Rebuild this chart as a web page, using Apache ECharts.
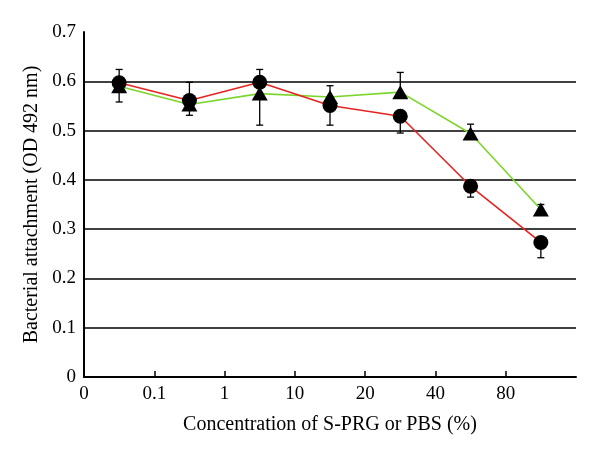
<!DOCTYPE html>
<html><head><meta charset="utf-8">
<script src="https://cdn.jsdelivr.net/npm/echarts@6/dist/echarts.min.js"></script>
<style>html,body{margin:0;padding:0;background:#fff}#c{width:600px;height:455px}</style>
</head><body><div id="c"></div>
<script>
const tickLabels = ["0", "0.1", "1", "10", "20", "40", "80"];
const positions = [0.5, 1.5, 2.5, 3.5, 4.5, 5.5, 6.5];
const circleValues = [0.597, 0.561, 0.598, 0.551, 0.529, 0.387, 0.273];
const circleErrUp = [0.027, 0.037, 0.026, 0, 0, 0, 0];
const circleErrDown = [0, 0, 0, 0.040, 0.034, 0.022, 0.031];
const triangleValues = [0.590, 0.553, 0.575, 0.568, 0.578, 0.494, 0.340];
const triangleErrUp = [0, 0, 0, 0.023, 0.040, 0.019, 0.010];
const triangleErrDown = [0.032, 0.022, 0.064, 0, 0, 0, 0];

const FONT = "Liberation Serif";
const tickIdx = tickLabels.map((_, i) => i);
function errData(vals, up, down) {
  return vals.map((v, i) => [positions[i], v, v + up[i], v - down[i], up[i], down[i]]);
}
function renderErr(params, api) {
  const x = api.value(0), v = api.value(1), hi = api.value(2), lo = api.value(3);
  const up = api.value(4), down = api.value(5);
  const c = api.coord([x, v]);
  const children = [];
  const hw = 3.5;
  const style = { stroke: '#000', lineWidth: 1.3 };
  if (up > 0) {
    const p = api.coord([x, hi]);
    children.push({ type: 'line', shape: { x1: c[0], y1: c[1], x2: p[0], y2: p[1] }, style });
    children.push({ type: 'line', shape: { x1: p[0] - hw, y1: p[1], x2: p[0] + hw, y2: p[1] }, style });
  }
  if (down > 0) {
    const p = api.coord([x, lo]);
    children.push({ type: 'line', shape: { x1: c[0], y1: c[1], x2: p[0], y2: p[1] }, style });
    children.push({ type: 'line', shape: { x1: p[0] - hw, y1: p[1], x2: p[0] + hw, y2: p[1] }, style });
  }
  return { type: 'group', children };
}

const chart = echarts.init(document.getElementById('c'));
chart.setOption({
  animation: false,
  grid: { left: 84, right: 24, top: 32, bottom: 78, containLabel: false },
  xAxis: {
    type: 'value', min: 0, max: 7, interval: 1,
    name: 'Concentration of S-PRG or PBS (%)', nameLocation: 'middle', nameGap: 38,
    nameTextStyle: { fontFamily: FONT, fontSize: 20, color: '#000' },
    axisLine: { show: true, lineStyle: { color: '#000', width: 2 } },
    axisTick: { show: true, inside: true, length: 6, customValues: tickIdx.slice(1), lineStyle: { color: '#000', width: 1.5 } },
    axisLabel: { fontFamily: FONT, fontSize: 19, color: '#000', margin: 8, customValues: tickIdx,
      formatter: v => { const i = Math.round(v); return tickLabels[i] !== undefined ? tickLabels[i] : ''; } },
    splitLine: { show: false }
  },
  yAxis: {
    type: 'value', min: 0, max: 0.7, interval: 0.1,
    name: 'Bacterial attachment (OD 492 nm)', nameLocation: 'middle', nameGap: 42,
    nameTextStyle: { fontFamily: FONT, fontSize: 20, color: '#000' },
    axisLine: { show: true, lineStyle: { color: '#000', width: 2 } },
    axisTick: { show: false },
    axisLabel: { fontFamily: FONT, fontSize: 19, color: '#000', margin: 8,
      formatter: v => v === 0 ? '0' : v.toFixed(1) },
    splitLine: { show: true, showMaxLine: false, lineStyle: { color: '#000', width: 1.5 } }
  },
  series: [
    { type: 'custom', renderItem: renderErr, data: errData(triangleValues, triangleErrUp, triangleErrDown), z: 3, silent: true },
    { type: 'custom', renderItem: renderErr, data: errData(circleValues, circleErrUp, circleErrDown), z: 3, silent: true },
    { type: 'line', data: triangleValues.map((v, i) => [positions[i], v]),
      lineStyle: { color: '#7ad62a', width: 1.6 }, itemStyle: { color: '#000' },
      symbol: 'triangle', symbolSize: [16, 14], showSymbol: true, z: 4 },
    { type: 'line', data: circleValues.map((v, i) => [positions[i], v]),
      lineStyle: { color: '#e52320', width: 1.6 }, itemStyle: { color: '#000' },
      symbol: 'circle', symbolSize: 15, showSymbol: true, z: 5 }
  ]
});
</script></body></html>
